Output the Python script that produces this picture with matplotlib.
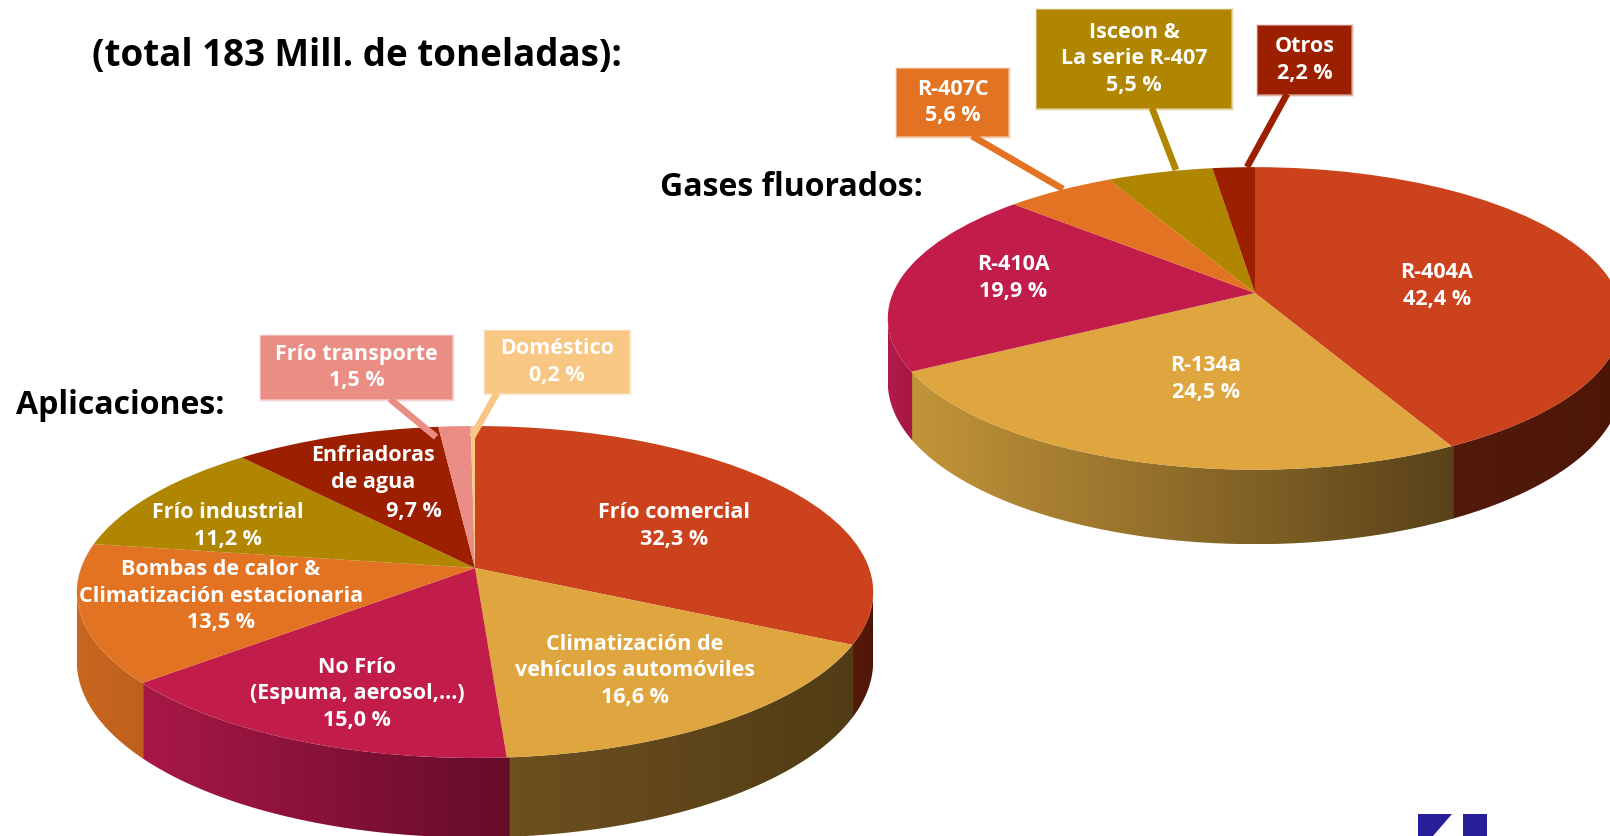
import numpy as np
import matplotlib
matplotlib.use("Agg")
import matplotlib.pyplot as plt
from matplotlib.colors import LinearSegmentedColormap
from matplotlib.patches import PathPatch, Rectangle, Polygon
from matplotlib.path import Path
from matplotlib.transforms import Transform

plt.rcParams["font.family"] = ["Open Sans", "DejaVu Sans"]

app_names = ["Frío comercial", "Climatización de\nvehículos automóviles", "No Frío\n(Espuma, aerosol,…)",
             "Bombas de calor &\nClimatización estacionaria", "Frío industrial", "Enfriadoras\nde agua",
             "Frío transporte", "Doméstico"]
app_values = [32.3, 16.6, 15.0, 13.5, 11.2, 9.7, 1.5, 0.2]

gas_names = ["R-404A", "R-134a", "R-410A", "R-407C", "Isceon &\nLa serie R-407", "Otros"]
gas_values = [42.4, 24.5, 19.9, 5.6, 5.5, 2.2]

app_colors = ["#CC421C", "#DFA63F", "#C11C4A", "#E27322", "#B08500", "#9C2000", "#E98D85", "#F9C784"]
gas_colors = ["#CC421C", "#DFA63F", "#C11C4A", "#E27322", "#B08500", "#9C2000"]
app_walls = [("#571A0A", "#4F1608"), ("#6E501F", "#513C15"), ("#A81846", "#650B2A"), ("#C8671F", "#BE601D"),
             None, None, None, None]
gas_walls = [("#531A0A", "#4C1607"), ("#C39539", "#59421A"), ("#B41B4A", "#A51843"), None, None, None]

TEXT = "white"
FS = 15.5
SPACING = 1.36


def pct(v):
    return f"{v:.1f} %".replace(".", ",")


class Tilt(Transform):
    # unit disc seen in perspective, output in pixels
    input_dims = output_dims = 2

    def __init__(self, x0, y0, a, b, k, drop=0):
        super().__init__()
        self.x0, self.y0, self.a, self.b, self.k, self.drop = x0, y0, a, b, k, drop

    def transform_non_affine(self, xy):
        xy = np.asarray(xy, dtype=float)
        w = 1 + self.k * xy[:, 1]
        return np.column_stack([self.x0 + self.a * xy[:, 0] / w,
                                self.y0 + (self.drop - self.b * xy[:, 1]) / w])


def draw_pie(ax, values, colors, walls, x0, y0, a, b, k, h):
    top = Tilt(x0, y0, a, b, k)
    low = Tilt(x0, y0, a, b, k, drop=h)
    edges = np.cumsum([0] + values) / sum(values) * 2 * np.pi
    # rim only shows where it turns towards the viewer
    lim = np.arcsin(k)
    for i, wall in enumerate(walls):
        if wall is None:
            continue
        t0 = max(edges[i] - 0.006, np.pi / 2 + lim)
        t1 = min(edges[i + 1], 3 * np.pi / 2 - lim)
        if t1 <= t0:
            continue
        t = np.linspace(t0, t1, 80)
        rim = np.column_stack([np.sin(t), np.cos(t)])
        pts = np.vstack([top.transform(rim), low.transform(rim)[::-1]])
        clip = PathPatch(Path(np.vstack([pts, pts[:1]])), transform=ax.transData, fc="none", lw=0)
        ax.add_patch(clip)
        cmap = LinearSegmentedColormap.from_list("w", [wall[0], wall[1]])
        im = ax.imshow(np.linspace(0, 1, 256)[None, :], cmap=cmap, aspect="auto", zorder=1,
                       extent=(pts[:, 0].min(), pts[:, 0].max(), pts[:, 1].max(), pts[:, 1].min()))
        im.set_clip_path(clip)
    wedges, _ = ax.pie(values, colors=colors, startangle=90, counterclock=False)
    for w in wedges:
        w.set_transform(top + ax.transData)
        w.set_zorder(2)
        w.set_clip_on(False)


def callout(ax, x0, y0, x1, y1, color, label, end, start):
    for pad, alpha in [(2.5, 0.12), (1.5, 0.25), (0.7, 0.4)]:
        ax.add_patch(Rectangle((x0 - pad, y0 - pad), x1 - x0 + 2 * pad, y1 - y0 + 2 * pad,
                               fc=color, ec="none", alpha=alpha, zorder=4))
    ax.add_patch(Rectangle((x0, y0), x1 - x0, y1 - y0, fc=color, ec="none", zorder=4))
    ax.plot([start[0], end[0]], [start[1], end[1]], color=color, lw=4.8, zorder=3, solid_capstyle="butt")
    ax.text((x0 + x1) / 2, (y0 + y1) / 2, label, color=TEXT, fontsize=FS, fontweight="bold",
            ha="center", va="center", linespacing=SPACING, zorder=5)


fig = plt.figure(figsize=(16.1, 8.36), dpi=100)
ax = fig.add_axes([0, 0, 1, 1])

draw_pie(ax, app_values, app_colors, app_walls, 475, 568, 394, 162.5, 0.1446, 68)
draw_pie(ax, gas_values, gas_colors, gas_walls, 1255, 293, 362, 147, 0.168, 62)

ax.set_aspect("auto")
ax.set_xlim(0, 1610)
ax.set_ylim(836, 0)
ax.axis("off")

labels = [
    (674, 526, f"{app_names[0]}\n{pct(app_values[0])}"),
    (635, 671, f"{app_names[1]}\n{pct(app_values[1])}"),
    (357, 694, f"{app_names[2]}\n{pct(app_values[2])}"),
    (221, 596, f"{app_names[3]}\n{pct(app_values[3])}"),
    (228, 526, f"{app_names[4]}\n{pct(app_values[4])}"),
    (373, 469, app_names[5]),
    (414, 511, pct(app_values[5])),
    (1437, 286, f"{gas_names[0]}\n{pct(gas_values[0])}"),
    (1206, 379, f"{gas_names[1]}\n{pct(gas_values[1])}"),
    (1013, 278, f"{gas_names[2]}\n{pct(gas_values[2])}"),
]
for x, y, s in labels:
    ax.text(x, y, s, color=TEXT, fontsize=FS, fontweight="bold", ha="center", va="center",
            linespacing=SPACING, zorder=5)

callout(ax, 261, 336, 452, 399, app_colors[6], f"{app_names[6]}\n{pct(app_values[6])}", (436, 437), (390, 399))
callout(ax, 485, 331, 629, 393, app_colors[7], f"{app_names[7]}\n{pct(app_values[7])}", (472, 437), (497, 393))
callout(ax, 897, 69, 1008, 136, gas_colors[3], f"{gas_names[3]}\n{pct(gas_values[3])}", (1063, 189), (972, 136))
callout(ax, 1037, 10, 1231, 108, gas_colors[4], f"{gas_names[4]}\n{pct(gas_values[4])}", (1176, 170), (1152, 108))
callout(ax, 1258, 26, 1351, 94, gas_colors[5], f"{gas_names[5]}\n{pct(gas_values[5])}", (1247, 167), (1287, 94))

ax.text(92, 56, "(total 183 Mill. de toneladas):", fontsize=26.5, fontweight="bold", color="black", va="center")
ax.text(16, 406, "Aplicaciones:", fontsize=23, fontweight="bold", color="black", va="center")
ax.text(660, 188, "Gases fluorados:", fontsize=23, fontweight="bold", color="black", va="center")

# logo, cut by the lower edge
ax.add_patch(Polygon([[1418, 814], [1452, 814], [1433, 836], [1418, 836]], fc="#2A1F9A", ec="none", zorder=3))
ax.add_patch(Polygon([[1463, 814], [1487, 814], [1487, 836], [1463, 836]], fc="#2A1F9A", ec="none", zorder=3))

fig.savefig("out.png", dpi=100, facecolor="white")
